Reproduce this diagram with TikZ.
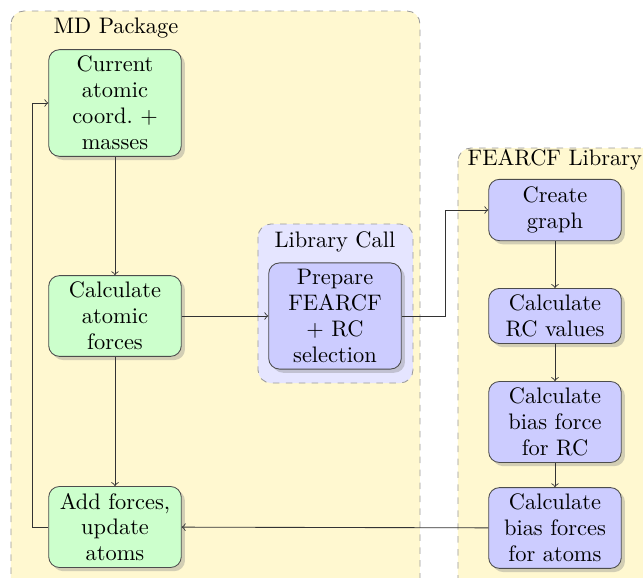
\documentclass[tikz,border=0pt]{standalone}
\usepackage{tikz}
\usetikzlibrary{positioning,shadows}
\definecolor{mdyellow}{RGB}{255,248,208}

\begin{document}
\begin{tikzpicture}[x=0.0163cm, y=-0.0163cm,
    font=\fontsize{10.4}{12}\selectfont,
    mdbox/.style={draw=black!70, rounded corners=5pt, fill=green!20,
        text width=1.95cm, align=center, minimum width=2.12cm, inner sep=3pt,
        drop shadow={shadow xshift=0.6mm, shadow yshift=-0.6mm, opacity=0.35}},
    libbox/.style={mdbox, fill=blue!20},
    group/.style={draw=black!40, dashed, rounded corners=6pt},
    flow/.style={->, black!80}]
    % visible frame
    \clip (0,0) rectangle (643,578);

    % group backgrounds
    \draw[group, fill=mdyellow] (11,11) rectangle (420,640);
    \draw[group, fill=mdyellow] (458,148) rectangle (700,640);
    \draw[group, fill=blue!10] (258,224) rectangle (413,383);
    \node[anchor=west] (mdlabel) at (46,28) {MD Package};
    \node (calllabel) at (335,242) {Library Call};
    \node[anchor=west] (liblabel) at (460,160) {FEARCF Library};

    % MD package steps
    \node[mdbox] (cur) at (115,103) {Current atomic coord.\ + masses};
    \node[mdbox] (calc) at (115,316) {Calculate atomic forces};
    \node[mdbox] (add) at (115,527) {Add forces, update atoms};

    % library call
    \node[libbox] (prep) at (335,316) {Prepare\\ FEARCF\\ + RC\\ selection};

    % FEARCF library steps
    \node[libbox, minimum height=1cm] (graph) at (555,210) {Create graph};
    \node[libbox] (rcval) at (555,316) {Calculate RC values};
    \node[libbox] (biasrc) at (555,422) {Calculate bias force for RC};
    \node[libbox] (biasat) at (555,528) {Calculate bias forces for atoms};

    % connectors
    \coordinate (bendA) at (445,316);
    \coordinate (bendB) at (32,527);
    \draw[flow] (cur) -- (calc);
    \draw[flow] (calc) -- (add);
    \draw[flow] (calc) -- (prep);
    \draw[flow] (prep) -- (bendA) |- (graph);
    \foreach \a/\b in {graph/rcval, rcval/biasrc, biasrc/biasat} {
        \draw[flow] (\a) -- (\b);
    }
    \draw[flow] (biasat) -- (add);
    \draw[flow] (add) -- (bendB) |- (cur);
\end{tikzpicture}
\end{document}
